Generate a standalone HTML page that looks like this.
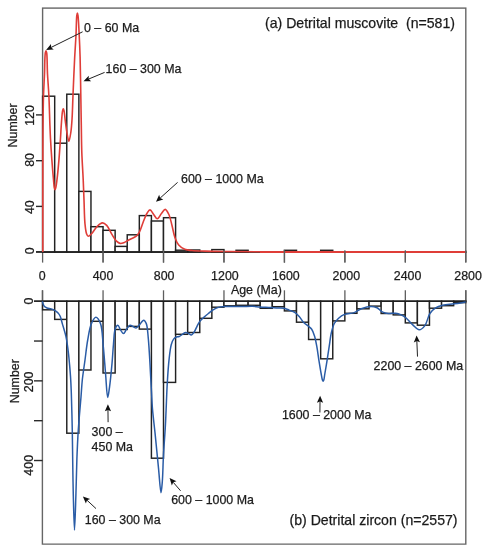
<!DOCTYPE html>
<html><head><meta charset="utf-8"><style>
html,body{margin:0;padding:0;background:#fff;width:492px;height:550px;overflow:hidden}
svg{display:block;will-change:transform}
text{font-family:"Liberation Sans",sans-serif;stroke:#1e1e1e;stroke-width:0.25px}
</style></head><body>
<svg width="492" height="550" viewBox="0 0 492 550">
<rect width="492" height="550" fill="#fff"/>
<rect x="42.60" y="8.1" width="423.20" height="243.90" fill="none" stroke="#666666" stroke-width="1.4"/>
<rect x="42.60" y="96.20" width="12.09" height="155.80" fill="#fff" stroke="#222" stroke-width="1.45"/>
<rect x="54.69" y="143.20" width="12.09" height="108.80" fill="#fff" stroke="#222" stroke-width="1.45"/>
<rect x="66.78" y="94.20" width="12.09" height="157.80" fill="#fff" stroke="#222" stroke-width="1.45"/>
<rect x="78.87" y="191.40" width="12.09" height="60.60" fill="#fff" stroke="#222" stroke-width="1.45"/>
<rect x="90.96" y="226.70" width="12.09" height="25.30" fill="#fff" stroke="#222" stroke-width="1.45"/>
<rect x="103.05" y="230.30" width="12.09" height="21.70" fill="#fff" stroke="#222" stroke-width="1.45"/>
<rect x="115.14" y="246.40" width="12.09" height="5.60" fill="#fff" stroke="#222" stroke-width="1.45"/>
<rect x="127.23" y="234.80" width="12.09" height="17.20" fill="#fff" stroke="#222" stroke-width="1.45"/>
<rect x="139.32" y="215.60" width="12.09" height="36.40" fill="#fff" stroke="#222" stroke-width="1.45"/>
<rect x="151.41" y="221.00" width="12.09" height="31.00" fill="#fff" stroke="#222" stroke-width="1.45"/>
<rect x="163.50" y="217.70" width="12.09" height="34.30" fill="#fff" stroke="#222" stroke-width="1.45"/>
<rect x="175.59" y="250.20" width="12.09" height="1.80" fill="#fff" stroke="#222" stroke-width="1.45"/>
<rect x="187.68" y="250.00" width="12.09" height="2.00" fill="#fff" stroke="#222" stroke-width="1.45"/>
<rect x="211.86" y="249.60" width="12.09" height="2.40" fill="#fff" stroke="#222" stroke-width="1.45"/>
<rect x="236.04" y="250.30" width="12.09" height="1.70" fill="#fff" stroke="#222" stroke-width="1.45"/>
<rect x="284.40" y="250.30" width="12.09" height="1.70" fill="#fff" stroke="#222" stroke-width="1.45"/>
<rect x="320.67" y="250.30" width="12.09" height="1.70" fill="#fff" stroke="#222" stroke-width="1.45"/>
<line x1="42.60" y1="252.00" x2="42.60" y2="262.6" stroke="#5e5e5e" stroke-width="1.3"/>
<line x1="103.06" y1="252.00" x2="103.06" y2="262.6" stroke="#5e5e5e" stroke-width="1.3"/>
<line x1="163.51" y1="252.00" x2="163.51" y2="262.6" stroke="#5e5e5e" stroke-width="1.3"/>
<line x1="223.97" y1="252.00" x2="223.97" y2="262.6" stroke="#5e5e5e" stroke-width="1.3"/>
<line x1="284.43" y1="252.00" x2="284.43" y2="262.6" stroke="#5e5e5e" stroke-width="1.3"/>
<line x1="344.89" y1="252.00" x2="344.89" y2="262.6" stroke="#5e5e5e" stroke-width="1.3"/>
<line x1="405.34" y1="252.00" x2="405.34" y2="262.6" stroke="#5e5e5e" stroke-width="1.3"/>
<line x1="465.80" y1="252.00" x2="465.80" y2="262.6" stroke="#5e5e5e" stroke-width="1.3"/>
<line x1="36" y1="252.00" x2="466.5" y2="252.00" stroke="#1e1e1e" stroke-width="1.6"/>
<line x1="36" y1="251.80" x2="42.60" y2="251.80" stroke="#2a2a2a" stroke-width="1.4"/>
<line x1="36" y1="206.40" x2="42.60" y2="206.40" stroke="#2a2a2a" stroke-width="1.4"/>
<line x1="36" y1="160.70" x2="42.60" y2="160.70" stroke="#2a2a2a" stroke-width="1.4"/>
<line x1="36" y1="114.90" x2="42.60" y2="114.90" stroke="#2a2a2a" stroke-width="1.4"/>
<path d="M42.80,252.00 C42.80,234.67 42.79,217.16 42.80,200.00 C42.81,183.17 42.80,163.81 42.85,150.00 C42.88,140.24 42.90,133.64 43.00,125.00 C43.11,115.69 43.22,105.00 43.50,96.00 C43.75,88.16 44.20,81.25 44.50,74.00 C44.80,66.92 44.70,56.40 45.30,53.00 C45.50,51.87 45.77,50.80 46.00,50.80 C46.23,50.80 46.50,51.87 46.70,53.00 C47.30,56.40 47.14,66.92 47.50,74.00 C47.87,81.25 48.52,88.16 48.90,96.00 C49.34,105.00 49.59,117.14 49.90,125.00 C50.11,130.38 50.23,133.60 50.50,138.60 C50.83,144.74 51.30,152.27 51.80,159.10 C52.30,165.94 53.02,174.35 53.50,179.60 C53.80,182.88 53.92,185.78 54.30,187.60 C54.50,188.58 54.75,189.79 55.00,189.80 C55.25,189.81 55.55,188.58 55.80,187.60 C56.26,185.78 56.59,182.89 57.00,179.60 C57.65,174.35 58.42,165.99 59.00,159.10 C59.59,152.12 60.06,144.55 60.50,138.00 C60.88,132.30 61.11,126.88 61.50,122.00 C61.83,117.88 62.09,112.74 62.60,110.60 C62.81,109.72 63.07,108.80 63.30,108.80 C63.53,108.80 63.78,109.73 64.00,110.60 C64.51,112.62 64.84,117.50 65.30,121.00 C65.77,124.57 66.18,128.33 66.80,131.80 C67.39,135.08 68.22,141.30 68.90,141.30 C69.58,141.30 70.38,135.28 70.90,131.80 C71.52,127.64 71.77,123.19 72.10,118.00 C72.52,111.31 72.64,103.62 73.00,95.00 C73.46,83.91 74.13,67.94 74.70,57.00 C75.13,48.67 75.64,42.10 76.00,35.00 C76.33,28.33 76.33,19.05 76.80,15.60 C76.97,14.32 77.20,13.00 77.40,13.00 C77.60,13.00 77.81,14.32 78.00,15.60 C78.50,19.05 78.86,28.33 79.20,35.00 C79.56,42.10 79.85,48.67 80.10,57.00 C80.42,67.95 80.59,83.08 80.80,95.00 C80.99,105.59 81.13,115.24 81.30,125.00 C81.46,134.31 81.48,143.20 81.80,152.30 C82.12,161.40 82.82,171.16 83.20,179.60 C83.53,186.89 83.71,192.92 84.00,200.00 C84.31,207.68 84.37,217.76 85.00,224.00 C85.41,228.03 85.77,231.78 86.60,233.90 C87.05,235.04 87.48,236.18 88.20,236.30 C89.11,236.45 90.58,234.74 91.80,233.50 C93.49,231.79 95.09,228.43 97.00,226.60 C98.66,225.01 100.68,222.96 102.40,222.90 C103.90,222.84 105.38,224.07 106.70,225.40 C108.56,227.26 109.92,231.20 111.60,233.90 C113.19,236.45 114.81,239.58 116.50,241.20 C117.67,242.32 118.85,243.17 120.10,243.40 C121.28,243.62 122.52,243.16 123.80,242.70 C125.36,242.14 126.97,240.90 128.70,240.00 C130.61,239.00 133.26,237.94 134.80,237.00 C135.82,236.37 136.46,235.98 137.20,235.20 C138.09,234.26 138.80,233.15 139.60,231.60 C140.84,229.19 142.03,224.94 143.30,221.80 C144.50,218.85 145.65,215.42 147.00,213.30 C147.94,211.82 148.96,209.88 150.00,209.90 C151.18,209.93 152.47,213.00 153.70,214.50 C154.90,215.96 156.06,218.82 157.30,218.80 C158.68,218.78 160.20,214.95 161.60,213.30 C162.82,211.86 164.03,209.33 165.20,209.40 C166.47,209.48 167.87,212.36 168.90,214.50 C170.29,217.38 171.01,221.73 172.00,225.50 C173.04,229.45 173.71,234.22 175.00,237.70 C176.04,240.51 177.01,243.04 178.70,245.00 C180.32,246.87 182.57,248.38 184.80,249.30 C187.01,250.21 189.24,250.21 192.00,250.50 C195.69,250.89 199.96,250.94 205.00,251.10 C211.98,251.32 221.29,251.39 230.00,251.50 C239.54,251.62 249.28,251.73 260.00,251.80 C272.38,251.88 282.12,251.88 300.00,251.90 C336.41,251.95 410.53,251.90 465.80,251.90" fill="none" stroke="#df3d38" stroke-width="1.6" stroke-linejoin="round"/>
<line x1="260" y1="251.95" x2="465.8" y2="251.95" stroke="#df3d38" stroke-width="1.9"/>
<line x1="103.06" y1="250.2" x2="103.06" y2="262.6" stroke="#5e5e5e" stroke-width="1.3"/>
<line x1="163.51" y1="250.2" x2="163.51" y2="262.6" stroke="#5e5e5e" stroke-width="1.3"/>
<line x1="223.97" y1="250.2" x2="223.97" y2="262.6" stroke="#5e5e5e" stroke-width="1.3"/>
<line x1="284.43" y1="250.2" x2="284.43" y2="262.6" stroke="#5e5e5e" stroke-width="1.3"/>
<line x1="344.89" y1="250.2" x2="344.89" y2="262.6" stroke="#5e5e5e" stroke-width="1.3"/>
<line x1="405.34" y1="250.2" x2="405.34" y2="262.6" stroke="#5e5e5e" stroke-width="1.3"/>
<line x1="465.80" y1="250.2" x2="465.80" y2="262.6" stroke="#5e5e5e" stroke-width="1.3"/>
<text transform="translate(34.10,250.90) rotate(-90)" text-anchor="middle" font-size="12.40" fill="#1a1a1a">0</text>
<text transform="translate(34.10,207.20) rotate(-90)" text-anchor="middle" font-size="12.40" fill="#1a1a1a">40</text>
<text transform="translate(34.10,159.90) rotate(-90)" text-anchor="middle" font-size="12.40" fill="#1a1a1a">80</text>
<text transform="translate(34.10,115.50) rotate(-90)" text-anchor="middle" font-size="12.40" fill="#1a1a1a">120</text>
<text transform="translate(16.60,125.40) rotate(-90)" text-anchor="middle" font-size="12.40" fill="#1a1a1a">Number</text>
<text x="42.20" y="280.00" text-anchor="middle" font-size="12.40" fill="#1a1a1a">0</text>
<text x="103.00" y="280.00" text-anchor="middle" font-size="12.40" fill="#1a1a1a">400</text>
<text x="164.10" y="280.00" text-anchor="middle" font-size="12.40" fill="#1a1a1a">800</text>
<text x="224.90" y="280.00" text-anchor="middle" font-size="12.40" fill="#1a1a1a">1200</text>
<text x="285.90" y="280.00" text-anchor="middle" font-size="12.40" fill="#1a1a1a">1600</text>
<text x="346.30" y="280.00" text-anchor="middle" font-size="12.40" fill="#1a1a1a">2000</text>
<text x="407.60" y="280.00" text-anchor="middle" font-size="12.40" fill="#1a1a1a">2400</text>
<text x="468.10" y="280.00" text-anchor="middle" font-size="12.40" fill="#1a1a1a">2800</text>
<text x="256.40" y="293.80" text-anchor="middle" font-size="12.40" fill="#1a1a1a">Age (Ma)</text>
<text x="84.00" y="32.20" text-anchor="start" font-size="12.40" fill="#1a1a1a">0 &#8211; 60 Ma</text>
<text x="105.60" y="72.50" text-anchor="start" font-size="12.40" fill="#1a1a1a">160 &#8211; 300 Ma</text>
<text x="181.00" y="183.20" text-anchor="start" font-size="12.40" fill="#1a1a1a">600 &#8211; 1000 Ma</text>
<text x="265.00" y="27.60" text-anchor="start" font-size="14.10" fill="#1a1a1a">(a) Detrital muscovite&#160; (n=581)</text>
<line x1="82.60" y1="31.80" x2="51.12" y2="47.41" stroke="#222" stroke-width="1.00"/><path d="M46.10,49.90 L53.75,49.57 L51.12,47.41 L50.99,44.01 Z" fill="#111"/>
<line x1="104.60" y1="72.40" x2="88.67" y2="79.04" stroke="#222" stroke-width="1.00"/><path d="M83.50,81.20 L91.15,81.37 L88.67,79.04 L88.77,75.64 Z" fill="#111"/>
<line x1="177.60" y1="182.40" x2="160.17" y2="198.06" stroke="#222" stroke-width="1.00"/><path d="M156.00,201.80 L163.28,199.43 L160.17,198.06 L159.14,194.82 Z" fill="#111"/>
<path d="M42.40,290.3 L42.40,544.1 L465.8,544.1 L465.8,290.3" fill="none" stroke="#666666" stroke-width="1.4"/>
<rect x="42.60" y="301.20" width="12.09" height="8.60" fill="#fff" stroke="#222" stroke-width="1.45"/>
<rect x="54.69" y="301.20" width="12.09" height="18.20" fill="#fff" stroke="#222" stroke-width="1.45"/>
<rect x="66.78" y="301.20" width="12.09" height="132.00" fill="#fff" stroke="#222" stroke-width="1.45"/>
<rect x="78.87" y="301.20" width="12.09" height="68.80" fill="#fff" stroke="#222" stroke-width="1.45"/>
<rect x="90.96" y="301.20" width="12.09" height="20.10" fill="#fff" stroke="#222" stroke-width="1.45"/>
<rect x="103.05" y="301.20" width="12.09" height="71.80" fill="#fff" stroke="#222" stroke-width="1.45"/>
<rect x="115.14" y="301.20" width="12.09" height="28.30" fill="#fff" stroke="#222" stroke-width="1.45"/>
<rect x="127.23" y="301.20" width="12.09" height="25.20" fill="#fff" stroke="#222" stroke-width="1.45"/>
<rect x="139.32" y="301.20" width="12.09" height="27.90" fill="#fff" stroke="#222" stroke-width="1.45"/>
<rect x="151.41" y="301.20" width="12.09" height="157.00" fill="#fff" stroke="#222" stroke-width="1.45"/>
<rect x="163.50" y="301.20" width="12.09" height="81.20" fill="#fff" stroke="#222" stroke-width="1.45"/>
<rect x="175.59" y="301.20" width="12.09" height="33.10" fill="#fff" stroke="#222" stroke-width="1.45"/>
<rect x="187.68" y="301.20" width="12.09" height="31.30" fill="#fff" stroke="#222" stroke-width="1.45"/>
<rect x="199.77" y="301.20" width="12.09" height="17.10" fill="#fff" stroke="#222" stroke-width="1.45"/>
<rect x="211.86" y="301.20" width="12.09" height="6.00" fill="#fff" stroke="#222" stroke-width="1.45"/>
<rect x="223.95" y="301.20" width="12.09" height="4.60" fill="#fff" stroke="#222" stroke-width="1.45"/>
<rect x="236.04" y="301.20" width="12.09" height="4.10" fill="#fff" stroke="#222" stroke-width="1.45"/>
<rect x="248.13" y="301.20" width="12.09" height="4.10" fill="#fff" stroke="#222" stroke-width="1.45"/>
<rect x="260.22" y="301.20" width="12.09" height="7.10" fill="#fff" stroke="#222" stroke-width="1.45"/>
<rect x="272.31" y="301.20" width="12.09" height="5.50" fill="#fff" stroke="#222" stroke-width="1.45"/>
<rect x="284.40" y="301.20" width="12.09" height="9.70" fill="#fff" stroke="#222" stroke-width="1.45"/>
<rect x="296.49" y="301.20" width="12.09" height="21.00" fill="#fff" stroke="#222" stroke-width="1.45"/>
<rect x="308.58" y="301.20" width="12.09" height="38.30" fill="#fff" stroke="#222" stroke-width="1.45"/>
<rect x="320.67" y="301.20" width="12.09" height="57.60" fill="#fff" stroke="#222" stroke-width="1.45"/>
<rect x="332.76" y="301.20" width="12.09" height="19.70" fill="#fff" stroke="#222" stroke-width="1.45"/>
<rect x="344.85" y="301.20" width="12.09" height="12.10" fill="#fff" stroke="#222" stroke-width="1.45"/>
<rect x="356.94" y="301.20" width="12.09" height="7.60" fill="#fff" stroke="#222" stroke-width="1.45"/>
<rect x="369.03" y="301.20" width="12.09" height="4.90" fill="#fff" stroke="#222" stroke-width="1.45"/>
<rect x="381.12" y="301.20" width="12.09" height="12.30" fill="#fff" stroke="#222" stroke-width="1.45"/>
<rect x="393.21" y="301.20" width="12.09" height="13.70" fill="#fff" stroke="#222" stroke-width="1.45"/>
<rect x="405.30" y="301.20" width="12.09" height="21.70" fill="#fff" stroke="#222" stroke-width="1.45"/>
<rect x="417.39" y="301.20" width="12.09" height="24.00" fill="#fff" stroke="#222" stroke-width="1.45"/>
<rect x="429.48" y="301.20" width="12.09" height="7.00" fill="#fff" stroke="#222" stroke-width="1.45"/>
<rect x="441.57" y="301.20" width="12.09" height="4.50" fill="#fff" stroke="#222" stroke-width="1.45"/>
<rect x="453.66" y="301.20" width="12.09" height="1.40" fill="#fff" stroke="#222" stroke-width="1.45"/>
<line x1="42.60" y1="290.3" x2="42.60" y2="301.20" stroke="#5e5e5e" stroke-width="1.3"/>
<line x1="103.06" y1="290.3" x2="103.06" y2="301.20" stroke="#5e5e5e" stroke-width="1.3"/>
<line x1="163.51" y1="290.3" x2="163.51" y2="301.20" stroke="#5e5e5e" stroke-width="1.3"/>
<line x1="223.97" y1="290.3" x2="223.97" y2="301.20" stroke="#5e5e5e" stroke-width="1.3"/>
<line x1="284.43" y1="290.3" x2="284.43" y2="301.20" stroke="#5e5e5e" stroke-width="1.3"/>
<line x1="344.89" y1="290.3" x2="344.89" y2="301.20" stroke="#5e5e5e" stroke-width="1.3"/>
<line x1="405.34" y1="290.3" x2="405.34" y2="301.20" stroke="#5e5e5e" stroke-width="1.3"/>
<line x1="465.80" y1="290.3" x2="465.80" y2="301.20" stroke="#5e5e5e" stroke-width="1.3"/>
<line x1="34" y1="301.20" x2="466.5" y2="301.20" stroke="#1e1e1e" stroke-width="1.6"/>
<line x1="34" y1="301.20" x2="42.60" y2="301.20" stroke="#2a2a2a" stroke-width="1.4"/>
<line x1="34" y1="341.03" x2="42.60" y2="341.03" stroke="#2a2a2a" stroke-width="1.4"/>
<line x1="34" y1="380.86" x2="42.60" y2="380.86" stroke="#2a2a2a" stroke-width="1.4"/>
<line x1="34" y1="420.69" x2="42.60" y2="420.69" stroke="#2a2a2a" stroke-width="1.4"/>
<line x1="34" y1="460.52" x2="42.60" y2="460.52" stroke="#2a2a2a" stroke-width="1.4"/>
<path d="M42.40,301.30 C42.60,302.07 42.70,302.80 43.00,303.60 C43.36,304.55 43.79,305.86 44.50,306.60 C45.16,307.29 46.03,307.63 47.00,308.00 C48.19,308.45 49.94,308.49 51.20,308.90 C52.30,309.25 53.28,309.72 54.20,310.20 C55.03,310.63 55.78,311.05 56.50,311.60 C57.25,312.17 57.98,312.82 58.60,313.60 C59.26,314.44 59.78,315.28 60.30,316.50 C61.07,318.31 61.63,321.30 62.30,323.60 C62.93,325.79 63.60,327.86 64.20,330.00 C64.80,332.13 65.39,334.10 65.90,336.40 C66.48,339.04 66.96,342.06 67.40,345.00 C67.86,348.08 68.24,351.25 68.60,354.50 C68.98,357.91 69.29,361.43 69.60,365.00 C69.92,368.72 70.24,372.43 70.50,376.40 C70.78,380.73 71.00,385.03 71.20,390.00 C71.45,396.02 71.62,403.22 71.80,410.00 C71.99,417.01 72.15,423.33 72.30,431.40 C72.50,441.91 72.62,456.46 72.80,467.70 C72.96,477.45 73.05,485.34 73.30,495.00 C73.59,505.94 74.07,530.00 74.50,530.00 C74.93,530.00 75.50,506.78 75.90,495.00 C76.31,482.99 76.48,469.85 76.90,458.60 C77.27,448.87 77.69,439.56 78.20,431.40 C78.62,424.72 79.12,419.09 79.60,413.20 C80.05,407.64 80.55,402.47 81.00,397.00 C81.46,391.40 81.68,385.89 82.30,380.00 C82.98,373.59 84.10,366.67 85.00,360.00 C85.90,353.33 86.56,346.31 87.70,340.00 C88.74,334.24 89.58,327.65 91.40,323.60 C92.63,320.85 94.39,317.31 95.90,317.30 C97.42,317.29 99.34,320.66 100.50,323.60 C102.45,328.54 102.40,337.80 103.20,345.50 C104.09,354.07 104.73,363.84 105.50,372.70 C106.23,381.16 106.85,397.46 107.70,397.50 C108.25,397.52 108.92,391.42 109.50,387.30 C110.38,381.05 111.31,371.13 112.00,363.60 C112.62,356.76 112.92,350.09 113.50,344.00 C114.01,338.66 113.98,332.22 115.20,329.00 C115.87,327.23 116.93,325.26 117.80,325.30 C118.80,325.34 119.74,328.96 120.80,330.40 C121.69,331.61 122.70,333.56 123.60,333.50 C124.58,333.43 125.36,330.74 126.40,329.40 C127.49,328.00 128.69,325.60 130.00,325.30 C131.09,325.05 132.42,326.34 133.50,326.80 C134.43,327.20 135.24,328.04 136.10,327.90 C137.12,327.74 138.03,326.35 139.10,325.30 C140.51,323.92 142.41,320.15 143.70,320.20 C144.72,320.24 145.62,321.96 146.30,323.60 C147.53,326.54 147.69,332.40 148.20,337.30 C148.79,342.93 149.12,349.44 149.50,355.50 C149.88,361.54 150.17,367.56 150.50,373.60 C150.83,379.66 151.17,385.91 151.50,391.80 C151.81,397.36 152.01,403.01 152.40,408.00 C152.73,412.30 153.17,415.94 153.60,420.00 C154.04,424.17 154.52,428.09 155.00,432.70 C155.58,438.22 156.20,444.83 156.80,450.90 C157.40,456.97 157.95,462.64 158.60,469.10 C159.34,476.46 160.30,492.69 161.00,492.70 C161.48,492.70 161.94,486.26 162.30,481.80 C162.87,474.76 163.00,463.59 163.50,454.50 C164.00,445.42 164.85,435.35 165.30,427.30 C165.66,420.89 165.81,416.42 166.10,410.00 C166.46,401.93 166.77,391.46 167.30,382.70 C167.79,374.54 168.32,366.01 169.10,359.10 C169.72,353.64 170.27,348.13 171.30,344.50 C171.95,342.21 172.58,340.40 173.60,339.10 C174.38,338.10 175.41,337.43 176.40,337.00 C177.29,336.61 178.25,336.88 179.20,336.50 C180.37,336.03 181.67,334.82 182.80,334.10 C183.78,333.47 184.63,332.50 185.60,332.40 C186.54,332.30 187.56,332.99 188.50,333.40 C189.46,333.82 190.41,335.03 191.30,334.90 C192.32,334.75 193.33,333.22 194.20,332.00 C195.28,330.49 196.03,328.12 197.00,326.30 C197.93,324.56 198.73,322.82 199.90,321.30 C201.09,319.75 202.66,318.42 204.10,317.10 C205.50,315.82 206.95,314.66 208.40,313.50 C209.82,312.36 211.11,311.19 212.70,310.20 C214.42,309.13 216.45,308.02 218.40,307.40 C220.26,306.81 222.00,306.66 224.10,306.50 C226.64,306.30 229.89,306.50 232.60,306.50 C235.07,306.50 237.70,306.50 239.70,306.50 C241.16,306.50 241.98,306.52 243.50,306.50 C245.79,306.47 249.31,306.23 252.10,306.30 C254.77,306.37 257.09,306.71 259.90,306.90 C263.18,307.12 267.40,307.30 270.60,307.50 C273.21,307.67 275.39,307.86 277.70,308.00 C279.89,308.13 282.13,307.91 284.10,308.30 C285.90,308.66 287.39,309.44 289.10,310.10 C290.92,310.80 293.02,311.34 294.70,312.40 C296.39,313.47 297.77,314.92 299.20,316.50 C300.79,318.27 302.09,320.95 303.70,322.60 C305.08,324.01 306.73,324.86 308.10,326.00 C309.38,327.06 310.69,327.78 311.70,329.20 C312.97,330.98 313.79,333.61 314.60,336.20 C315.55,339.24 316.12,342.69 316.80,346.40 C317.61,350.80 318.25,356.19 319.00,360.90 C319.72,365.38 320.55,370.48 321.20,374.00 C321.64,376.39 321.95,378.75 322.40,380.00 C322.62,380.61 322.87,381.30 323.10,381.30 C323.33,381.30 323.59,380.62 323.80,380.00 C324.23,378.75 324.40,376.39 324.80,374.00 C325.39,370.47 326.28,365.38 327.00,360.90 C327.75,356.19 328.46,351.18 329.20,346.40 C329.93,341.72 330.42,336.60 331.40,332.50 C332.20,329.14 332.94,326.00 334.30,323.50 C335.45,321.37 336.92,319.71 338.60,318.20 C340.31,316.67 342.19,315.32 344.50,314.40 C347.24,313.31 351.29,313.64 354.20,312.60 C356.83,311.66 358.65,309.71 361.30,308.70 C364.28,307.56 368.43,306.38 371.30,306.40 C373.47,306.42 375.18,306.94 377.00,307.80 C379.00,308.75 380.70,311.15 382.70,312.10 C384.52,312.96 386.38,313.30 388.40,313.50 C390.62,313.72 393.28,312.92 395.50,313.20 C397.53,313.45 399.44,314.11 401.20,314.90 C402.90,315.66 404.27,316.49 405.90,317.80 C408.08,319.55 410.47,322.83 412.80,324.90 C414.91,326.77 417.12,329.78 419.20,329.80 C421.15,329.82 423.29,327.66 424.90,325.60 C427.10,322.79 427.81,316.63 429.90,313.50 C431.54,311.04 433.42,309.19 435.60,307.80 C437.71,306.45 440.01,305.85 442.70,305.20 C446.01,304.40 450.29,304.31 454.10,303.80 C457.95,303.28 461.83,302.67 465.70,302.10" fill="none" stroke="#2a5ca6" stroke-width="1.5" stroke-linejoin="round"/>
<text transform="translate(32.70,301.00) rotate(-90)" text-anchor="middle" font-size="12.40" fill="#1a1a1a">0</text>
<text transform="translate(32.70,381.90) rotate(-90)" text-anchor="middle" font-size="12.40" fill="#1a1a1a">200</text>
<text transform="translate(32.70,465.30) rotate(-90)" text-anchor="middle" font-size="12.40" fill="#1a1a1a">400</text>
<text transform="translate(18.80,381.20) rotate(-90)" text-anchor="middle" font-size="12.40" fill="#1a1a1a">Number</text>
<text x="91.60" y="435.60" text-anchor="start" font-size="12.40" fill="#1a1a1a">300 &#8211;</text>
<text x="91.60" y="451.00" text-anchor="start" font-size="12.40" fill="#1a1a1a">450 Ma</text>
<text x="84.80" y="524.20" text-anchor="start" font-size="12.40" fill="#1a1a1a">160 &#8211; 300 Ma</text>
<text x="171.20" y="503.60" text-anchor="start" font-size="12.40" fill="#1a1a1a">600 &#8211; 1000 Ma</text>
<text x="281.90" y="418.90" text-anchor="start" font-size="12.40" fill="#1a1a1a">1600 &#8211; 2000 Ma</text>
<text x="373.60" y="370.30" text-anchor="start" font-size="12.40" fill="#1a1a1a">2200 &#8211; 2600 Ma</text>
<text x="289.50" y="525.30" text-anchor="start" font-size="14.10" fill="#1a1a1a">(b) Detrital zircon (n=2557)</text>
<line x1="108.10" y1="422.20" x2="107.96" y2="409.90" stroke="#222" stroke-width="1.00"/><path d="M107.90,404.30 L104.88,411.33 L107.96,409.90 L111.08,411.26 Z" fill="#111"/>
<line x1="96.00" y1="508.60" x2="87.00" y2="500.22" stroke="#222" stroke-width="1.00"/><path d="M82.90,496.40 L85.91,503.44 L87.00,500.22 L90.14,498.90 Z" fill="#111"/>
<line x1="180.60" y1="490.80" x2="173.27" y2="482.33" stroke="#222" stroke-width="1.00"/><path d="M169.60,478.10 L171.84,485.42 L173.27,482.33 L176.53,481.36 Z" fill="#111"/>
<line x1="319.90" y1="412.50" x2="320.03" y2="401.40" stroke="#222" stroke-width="1.00"/><path d="M320.10,395.80 L316.92,402.76 L320.03,401.40 L323.12,402.84 Z" fill="#111"/>
<line x1="417.50" y1="356.60" x2="416.84" y2="340.99" stroke="#222" stroke-width="1.00"/><path d="M416.60,335.40 L413.80,342.53 L416.84,340.99 L419.99,342.26 Z" fill="#111"/>
</svg>
</body></html>
